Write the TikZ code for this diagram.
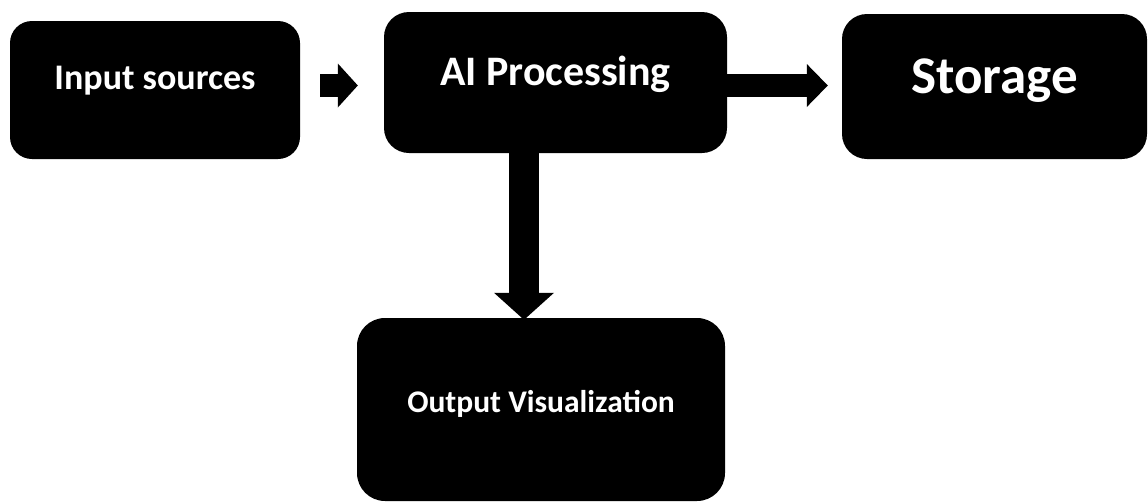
\documentclass[tikz,border=0pt]{standalone}
\usepackage{fontspec}
\setmainfont{Carlito}
\usetikzlibrary{arrows.meta}
\tikzset{
  blk/.style={fill=black, text=white, inner sep=0pt, font=\bfseries, align=center},
  blockarrow/.style={line width=#1, line cap=butt},
}
\begin{document}
\begin{tikzpicture}[x=1pt,y=-1pt]
\useasboundingbox (0,0) rectangle (1148,501);
\node[blk, rounded corners=22pt, minimum width=290pt, minimum height=138pt,
      text height=20pt, text depth=22pt, font=\bfseries\fontsize{36}{40}\selectfont]
      (in) at (155,90) {Input sources};
\node[blk, rounded corners=25pt, minimum width=343pt, minimum height=141pt,
      text height=25pt, text depth=20pt, font=\bfseries\fontsize{42}{46}\selectfont]
      (ai) at (555.5,82.5) {AI Processing};
\node[blk, rounded corners=25pt, minimum width=305pt, minimum height=145pt,
      text height=30pt, text depth=17pt, font=\bfseries\fontsize{53}{58}\selectfont]
      (st) at (994.5,86.5) {Storage};
\node[blk, rounded corners=28pt, minimum width=368pt, minimum height=183pt,
      text height=20pt, text depth=15pt, font=\bfseries\fontsize{31.5}{35}\selectfont]
      (out) at (541,409.5) {Output Visualization};
\draw[blockarrow=23pt, -{Triangle[length=20pt,width=44pt,line width=0pt]}]
  ([xshift=20pt,yshift=4.5pt]in.east) -- ([xshift=-26pt,yshift=-3pt]ai.west);
\draw[blockarrow=23pt, -{Triangle[length=21pt,width=43pt,line width=0pt]}]
  ([yshift=-3pt]ai.east) -- ([xshift=-14pt,yshift=1pt]st.west);
\draw[blockarrow=30pt, -{Triangle[length=27pt,width=60pt,line width=0pt]}]
  ([xshift=-31.5pt]ai.south) -- ([xshift=-17pt,yshift=-2pt]out.north);
\end{tikzpicture}
\end{document}
